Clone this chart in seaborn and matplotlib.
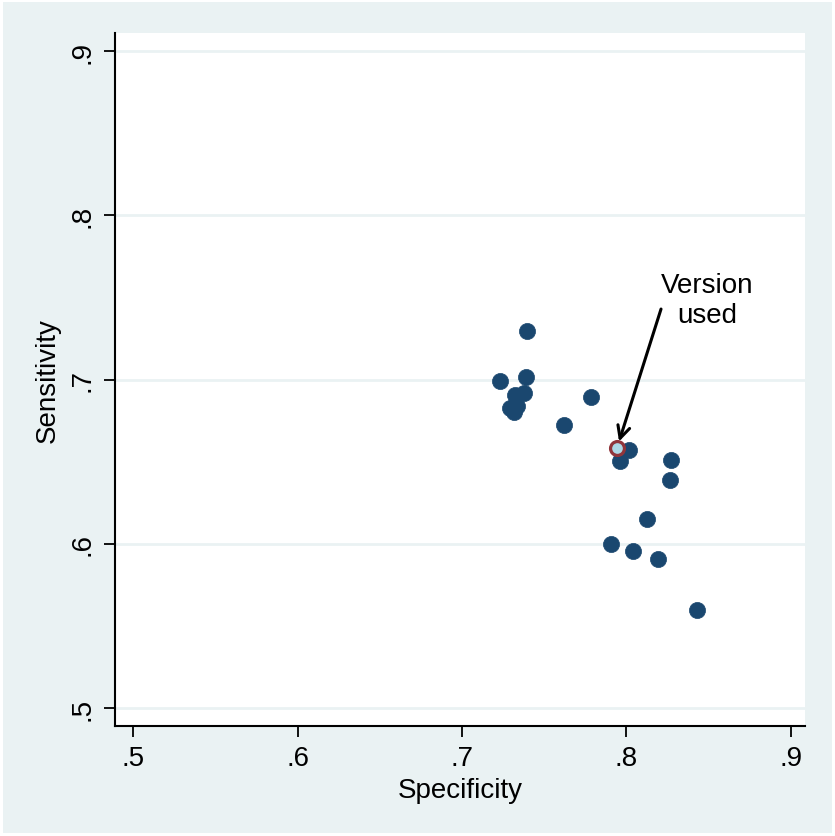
import matplotlib
matplotlib.use("Agg")
import matplotlib.pyplot as plt
import seaborn as sns
import pandas as pd
from matplotlib.patches import Rectangle

# data
specificity = [0.7395, 0.7231, 0.7389, 0.7377, 0.7322, 0.7292, 0.7334, 0.7316,
               0.7620, 0.7784, 0.8015, 0.7960, 0.8270, 0.8264, 0.8125, 0.7906,
               0.8040, 0.8191, 0.8429]
sensitivity = [0.7295, 0.6990, 0.7015, 0.6917, 0.6905, 0.6826, 0.6838, 0.6802,
               0.6722, 0.6893, 0.6570, 0.6503, 0.6510, 0.6388, 0.6150, 0.5998,
               0.5956, 0.5907, 0.5596]
used_spec = [0.7942]
used_sens = [0.6582]
ticks = [0.5, 0.6, 0.7, 0.8, 0.9]
tick_labels = [".5", ".6", ".7", ".8", ".9"]

sns.set_theme(style="white")
plt.rcParams['font.family'] = ['Liberation Sans', 'DejaVu Sans']
plt.rcParams['text.color'] = 'black'
plt.rcParams['axes.labelcolor'] = 'black'
plt.rcParams['xtick.color'] = 'black'
plt.rcParams['ytick.color'] = 'black'

bg = "#eaf2f3"
navy = "#1a476f"
fs = 20

fig = plt.figure(figsize=(8.35, 8.37), dpi=100, facecolor="white")
fig.patches.append(Rectangle((3 / 835, 3 / 837), 1 - 6 / 835, 1 - 6 / 837,
                             transform=fig.transFigure, facecolor=bg,
                             edgecolor="none", zorder=-10))
ax = fig.add_axes([0.1377, 0.1314, 0.964 - 0.1377, 0.9594 - 0.1314])
ax.set_facecolor("white")

df = pd.DataFrame({"Specificity": specificity, "Sensitivity": sensitivity})
sns.scatterplot(data=df, x="Specificity", y="Sensitivity", ax=ax, color=navy,
                s=135, edgecolor=navy, linewidth=0.5, zorder=3)
used = pd.DataFrame({"Specificity": used_spec, "Sensitivity": used_sens})
sns.scatterplot(data=used, x="Specificity", y="Sensitivity", ax=ax,
                color="#add8e6", s=100, edgecolor="#90353b", linewidth=2.3, zorder=4)

ax.set_xlim(0.489, 0.9085)
ax.set_ylim(0.489, 0.911)
ax.set_xticks(ticks)
ax.set_xticklabels(tick_labels, fontsize=fs)
ax.set_yticks(ticks)
ax.set_yticklabels(tick_labels, fontsize=fs, rotation=90, va="center")
ax.tick_params(axis="both", direction="out", length=8, width=1.3, color="black",
               pad=6, bottom=True, left=True)
ax.yaxis.grid(True, color=bg, linewidth=2, zorder=0)
ax.xaxis.grid(False)
ax.set_axisbelow(True)

for side in ["top", "right"]:
    ax.spines[side].set_visible(False)
for side in ["left", "bottom"]:
    ax.spines[side].set_color("black")
    ax.spines[side].set_linewidth(1.5)

ax.set_xlabel("Specificity", fontsize=fs, labelpad=4)
ax.set_ylabel("Sensitivity", fontsize=fs, labelpad=6)

ax.text(0.849, 0.7485, "Version\nused", ha="center", va="center",
        fontsize=fs, linespacing=1.2)
ax.annotate("", xy=(used_spec[0], used_sens[0]), xytext=(0.821, 0.7429),
            arrowprops=dict(arrowstyle="->", color="black", lw=2.2,
                            shrinkA=0, shrinkB=5, mutation_scale=22))

fig.savefig("out.png", dpi=100, facecolor="white")
